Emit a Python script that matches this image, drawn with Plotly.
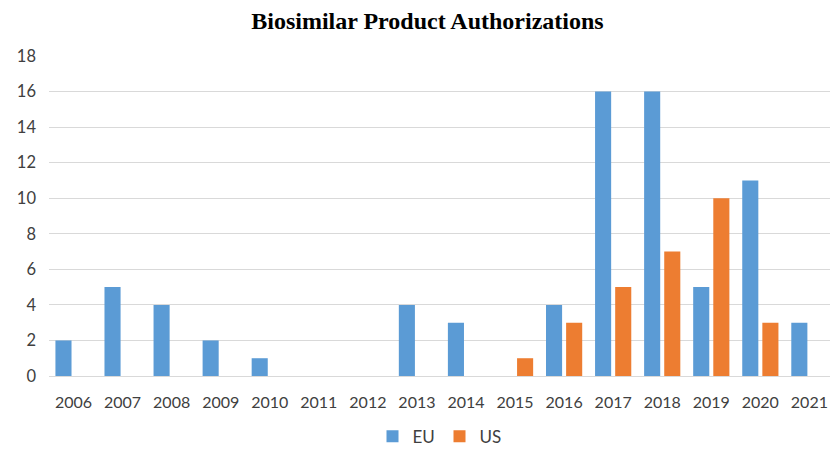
import plotly.graph_objects as go

years = ["2006", "2007", "2008", "2009", "2010", "2011", "2012", "2013",
         "2014", "2015", "2016", "2017", "2018", "2019", "2020", "2021"]
eu = [2, 5, 4, 2, 1, 0, 0, 4, 3, 0, 4, 16, 16, 5, 11, 3]
us = [0, 0, 0, 0, 0, 0, 0, 0, 0, 1, 3, 5, 7, 10, 3, 0]

fig = go.Figure()
fig.add_trace(go.Bar(name="EU", x=years, y=eu, marker=dict(color="#5B9BD5", line=dict(width=0))))
fig.add_trace(go.Bar(name="US", x=years, y=us, marker=dict(color="#ED7D31", line=dict(width=0))))

fig.update_layout(
    width=830, height=450,
    margin=dict(l=49, r=0, t=56, b=74, autoexpand=False),
    paper_bgcolor="white", plot_bgcolor="white",
    barmode="group", bargap=0.18, bargroupgap=0.2,
    title=dict(text="<b>Biosimilar Product Authorizations</b>", x=0.515, xanchor="center",
               y=0.955, yanchor="middle",
               font=dict(family="Liberation Serif", size=24, color="black")),
    font=dict(family="Lato", size=16, color="#404040"),
    legend=dict(orientation="h", x=0.5, xanchor="center", y=-0.19, yanchor="middle",
                font=dict(family="Lato", size=17, color="#404040"),
                entrywidth=22, entrywidthmode="pixels", traceorder="normal"),
    xaxis=dict(type="category", range=[-0.5, 15.42], showgrid=False, showline=True,
               linecolor="#d9d9d9", linewidth=1, ticks="", ticklabelstandoff=12,
               tickfont=dict(family="Lato", size=16, color="#404040")),
    yaxis=dict(range=[0, 18], dtick=2, showgrid=True, gridcolor="#d9d9d9", gridwidth=1,
               zeroline=False, showline=False, ticks="", ticklabelstandoff=12,
               tickfont=dict(family="Lato", size=16.5, color="#404040")),
)
fig.write_html("out.html")
